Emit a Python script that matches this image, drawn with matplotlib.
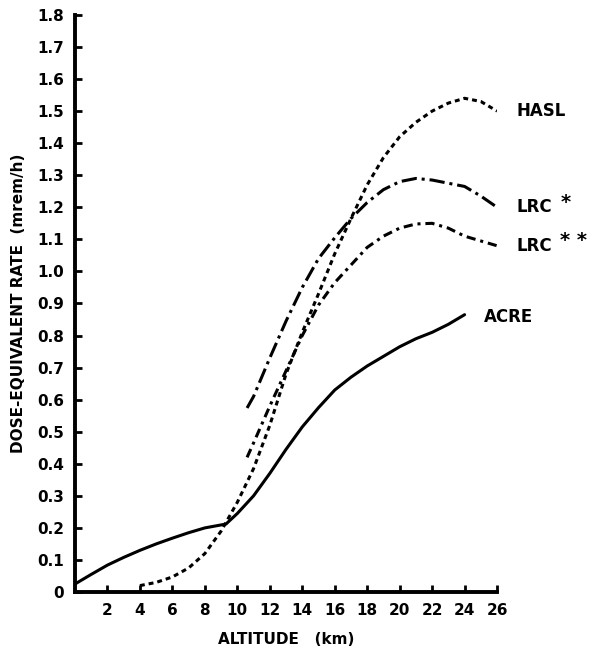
import matplotlib.pyplot as plt

# altitude (km) / dose-equivalent rate (mrem/h)
acre_x = [0, 1, 2, 3, 4, 5, 6, 7, 8, 9.3, 10, 11, 12, 13, 14, 15, 16, 17,
          18, 19, 20, 21, 22, 23, 24]
acre_y = [0.025, 0.055, 0.084, 0.108, 0.13, 0.15, 0.168, 0.185, 0.20, 0.212,
          0.245, 0.30, 0.37, 0.445, 0.515, 0.575, 0.63, 0.67, 0.705, 0.735,
          0.765, 0.79, 0.81, 0.835, 0.865]

hasl_x = [4, 5, 6, 7, 8, 9, 10, 11, 12, 13, 14, 15, 16, 17, 18, 19, 20, 21,
          22, 23, 24, 25, 26]
hasl_y = [0.02, 0.03, 0.047, 0.075, 0.12, 0.19, 0.28, 0.385, 0.52, 0.68,
          0.81, 0.93, 1.055, 1.165, 1.27, 1.355, 1.42, 1.465, 1.50, 1.525,
          1.54, 1.53, 1.50]

lrc1_x = [10.6, 11, 12, 13, 14, 15, 16, 17, 18, 19, 20, 21, 22, 23, 24, 25, 26]
lrc1_y = [0.574, 0.61, 0.73, 0.845, 0.95, 1.04, 1.105, 1.165, 1.215, 1.255,
          1.28, 1.29, 1.285, 1.275, 1.265, 1.235, 1.20]

lrc2_x = [10.6, 11, 12, 13, 14, 15, 16, 17, 18, 19, 20, 21, 22, 23, 24, 25, 26]
lrc2_y = [0.42, 0.465, 0.58, 0.69, 0.80, 0.895, 0.965, 1.02, 1.075, 1.11,
          1.135, 1.148, 1.15, 1.135, 1.11, 1.095, 1.08]

x_ticks = list(range(2, 27, 2))
y_ticks = [round(0.1 * i, 1) for i in range(19)]
y_labels = ['0'] + [f'{v:.1f}' for v in y_ticks[1:]]

plt.rcParams['font.family'] = ['DejaVu Sans']
plt.rcParams['font.weight'] = 'bold'

fig = plt.figure(figsize=(5.93, 6.49), dpi=100)
ax = fig.add_axes([0.1265, 0.0878, 0.7117, 0.8892])

lw = 2.2
ax.plot(acre_x, acre_y, color='black', lw=lw, solid_capstyle='round')
ax.plot(hasl_x, hasl_y, color='black', lw=lw, dashes=(1.6, 1.3))
ax.plot(lrc1_x, lrc1_y, color='black', lw=lw, dashes=(5, 1.6, 1, 1.6))
ax.plot(lrc2_x, lrc2_y, color='black', lw=lw, dashes=(3, 1.6, 1, 1.6))

# curve names at their right ends
lab = dict(fontsize=12, fontweight='bold', va='center', ha='left',
           clip_on=False)
star = dict(lab, fontsize=14)
ax.text(27.2, 1.50, 'HASL', **lab)
ax.text(27.2, 1.20, 'LRC', **lab)
ax.text(29.9, 1.215, '*', **star)
ax.text(27.2, 1.08, 'LRC', **lab)
ax.text(29.9, 1.095, '* *', **star)
ax.text(25.2, 0.857, 'ACRE', **lab)

ax.set_xlim(0, 26)
ax.set_ylim(0, 1.8)
ax.set_xticks(x_ticks)
ax.set_xticklabels([str(v) for v in x_ticks])
ax.set_yticks(y_ticks)
ax.set_yticklabels(y_labels)
ax.tick_params(direction='in', length=5, width=2, labelsize=11, pad=8)
for t in ax.get_xticklabels() + ax.get_yticklabels():
    t.set_fontweight('bold')

for side in ['top', 'right']:
    ax.spines[side].set_visible(False)
for side in ['left', 'bottom']:
    ax.spines[side].set_linewidth(2.8)

ax.set_xlabel('ALTITUDE   (km)', fontsize=11, fontweight='bold', labelpad=10)
ax.set_ylabel('DOSE-EQUIVALENT RATE  (mrem/h)', fontsize=11,
              fontweight='bold', labelpad=8)

fig.savefig('out.png', dpi=100)
